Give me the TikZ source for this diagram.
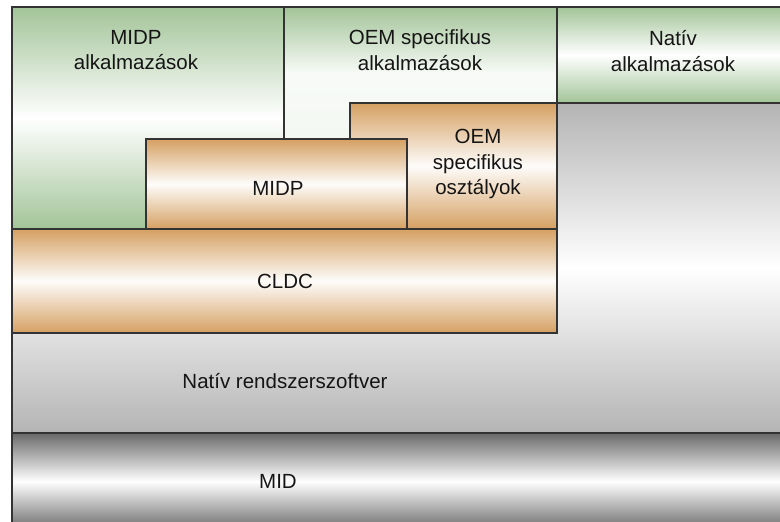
\documentclass[tikz,border=0pt]{standalone}
\usepackage{fontspec}
\setmainfont{Liberation Sans}
\definecolor{grn}{HTML}{A2C498}
\definecolor{org}{HTML}{D5A062}
\definecolor{gry}{HTML}{B4B4B4}
\definecolor{dgry}{HTML}{6A6A6A}
\definecolor{edge}{HTML}{333333}
\definecolor{txt}{HTML}{151515}
\tikzset{
  layer/.style={draw=edge, line width=1.3pt},
  greenbox/.style={layer, top color=grn, bottom color=grn, middle color=white},
  greenfade/.style={layer, top color=grn, bottom color=white!88!grn, middle color=white!92!grn},
  orangebox/.style={layer, top color=org, bottom color=org, middle color=white!97!org},
  graybox/.style={layer, top color=gry, bottom color=gry, middle color=white},
  midbox/.style={layer, top color=dgry, bottom color=dgry, middle color=white},
  lbl/.style={align=center, text=txt, font=\fontsize{20.5}{25.5}\selectfont, inner sep=0pt}
}
\begin{document}
\begin{tikzpicture}[x=1pt,y=-1pt]
\useasboundingbox (0,0) rectangle (780,522);
\fill[white] (0,0) rectangle (780,522);
\clip (0,0) rectangle (780,522);
% base layers
\shade[graybox] (12,103) rectangle (785,433);
\shade[midbox] (12,433) rectangle (785,530);
% applications
\shade[greenbox] (12,7) rectangle (284,229);
\shade[greenfade] (284,7) rectangle (557,139);
\shade[greenbox] (557,7) rectangle (785,103);
% middle layers
\shade[orangebox] (350,103) rectangle (557,229);
\shade[orangebox] (146,139) rectangle (407,229);
\shade[orangebox] (12,229) rectangle (557,333);
% labels
\node[lbl] (midpapp) at (136,50) {MIDP\\alkalmazások};
\node[lbl] (oemapp) at (420,50) {OEM specifikus\\alkalmazások};
\node[lbl] (natapp) at (673,51) {Natív\\alkalmazások};
\node[lbl] (midp) at (278,188) {MIDP};
\node[lbl] (oemcls) at (478,164) {OEM\\specifikus\\osztályok};
\node[lbl] (cldc) at (285,281) {CLDC};
\node[lbl] (natsys) at (285,381) {Natív rendszerszoftver};
\node[lbl] (mid) at (278,481) {MID};
\end{tikzpicture}
\end{document}
